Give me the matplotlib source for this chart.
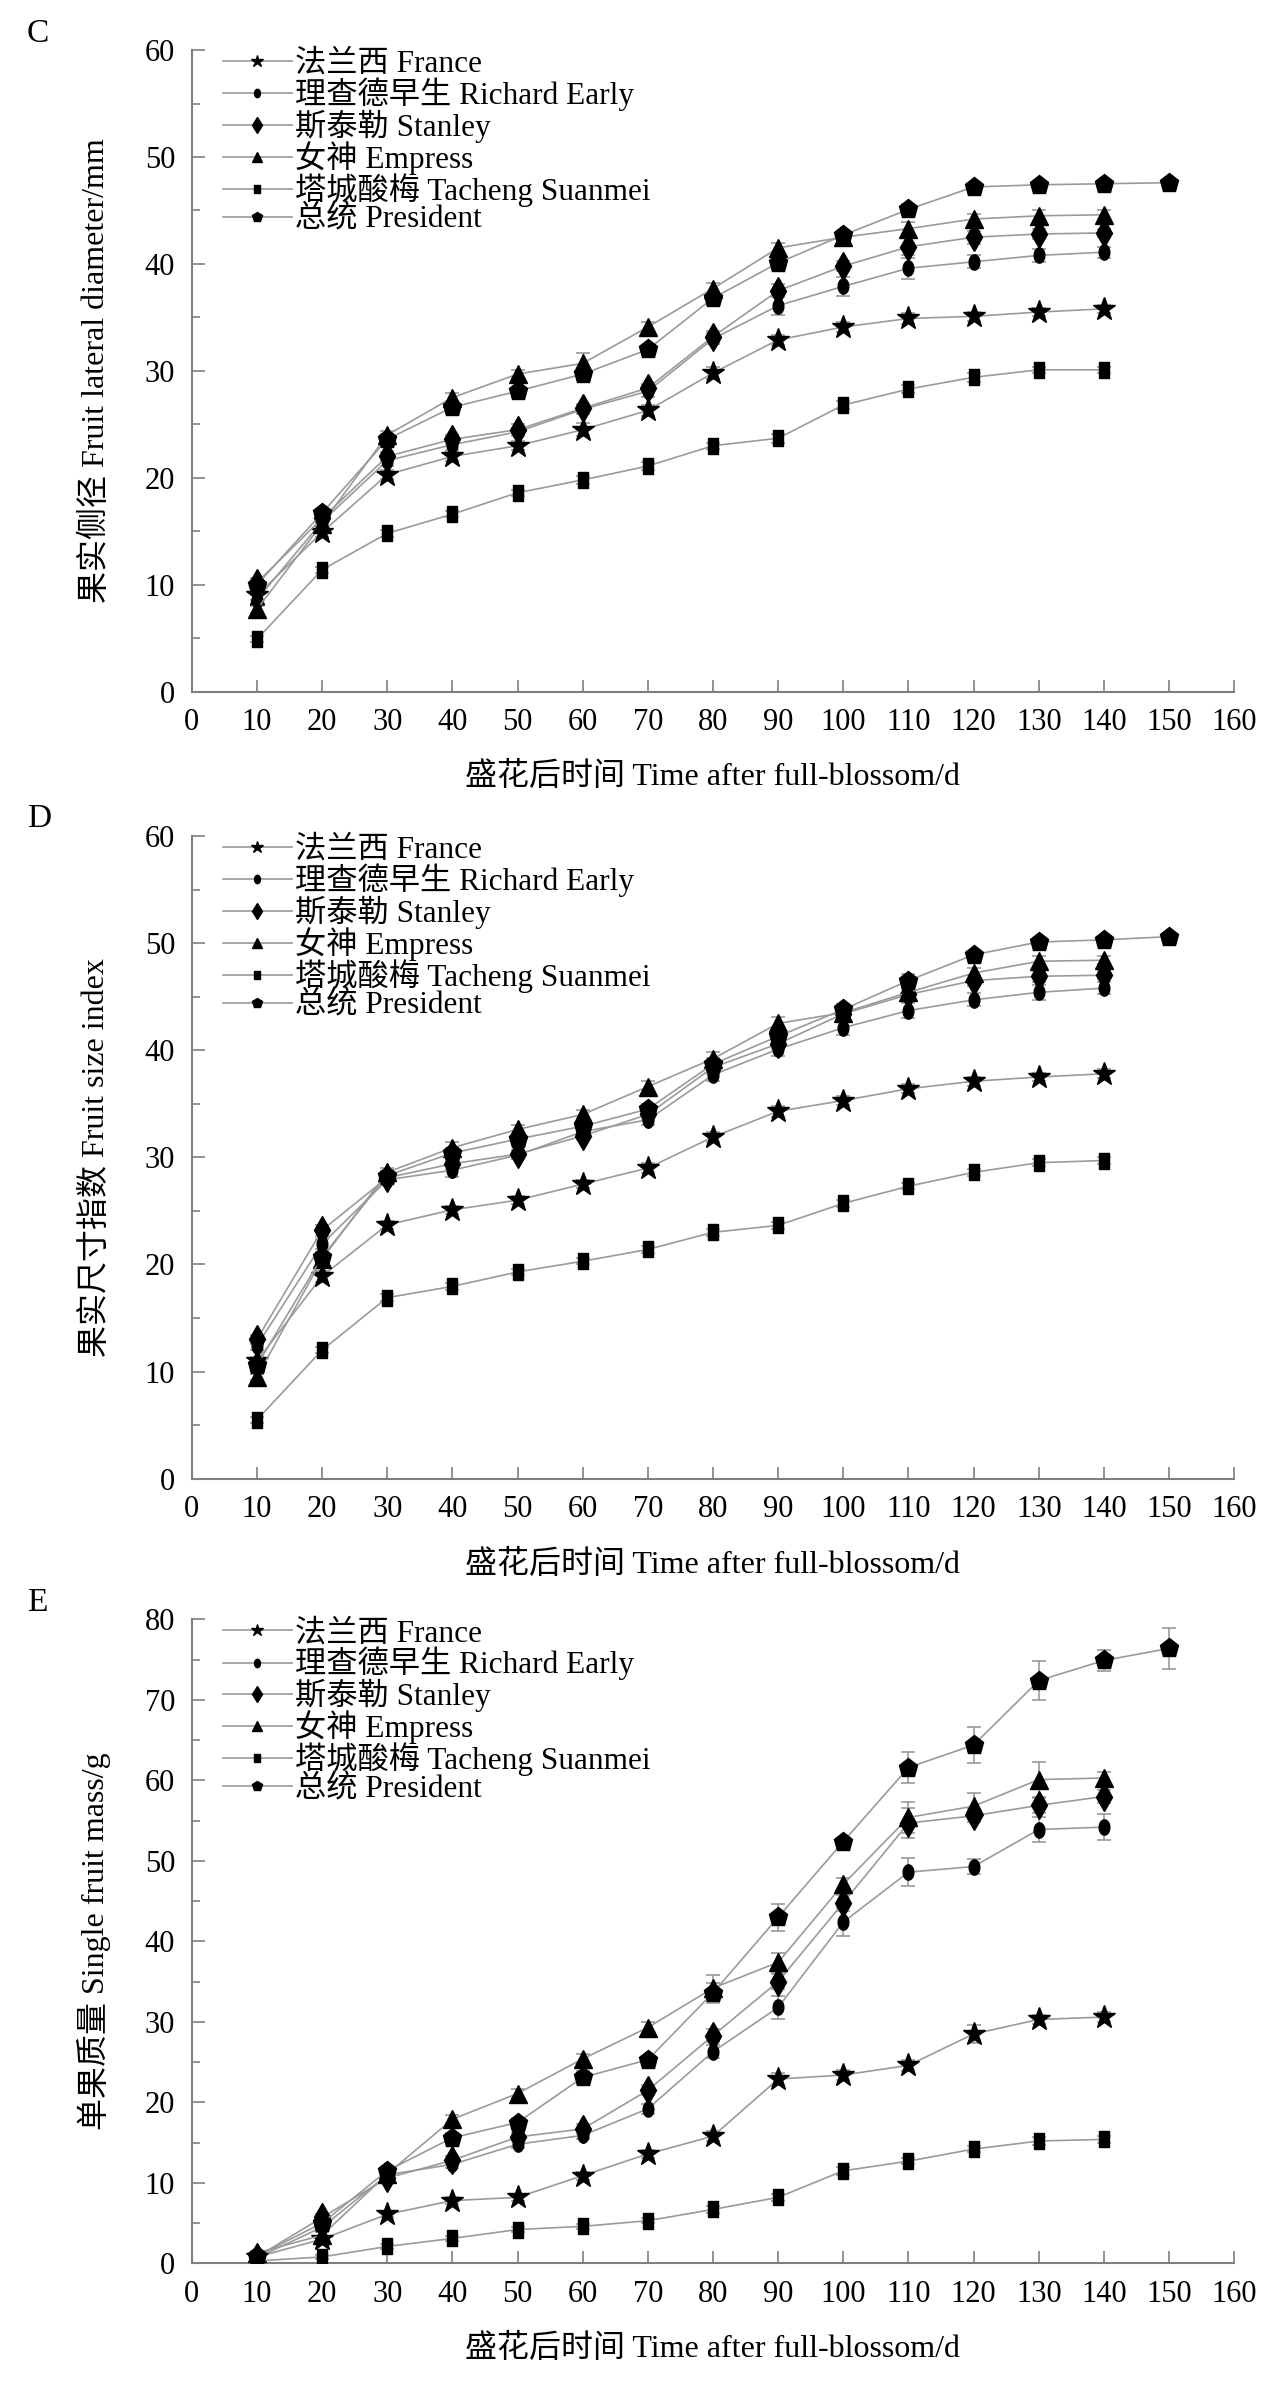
import numpy as np
import matplotlib.pyplot as plt
from matplotlib.ticker import MultipleLocator

plt.rcParams['font.family'] = ['Liberation Serif', 'Noto Sans CJK SC']
plt.rcParams['font.size'] = 22

days = [10, 20, 30, 40, 50, 60, 70, 80, 90, 100, 110, 120, 130, 140]
days_pres = days + [150]

names = ['法兰西 France', '理查德早生 Richard Early', '斯泰勒 Stanley',
         '女神 Empress', '塔城酸梅 Tacheng Suanmei', '总统 President']

# C: fruit lateral diameter (mm)
c_france = [9.0, 14.9, 20.3, 22.0, 23.0, 24.5, 26.3, 29.8, 32.9, 34.1, 34.9, 35.1, 35.5, 35.8]
c_richard = [8.6, 15.9, 21.6, 23.1, 24.3, 26.4, 28.1, 33.0, 36.1, 37.9, 39.6, 40.2, 40.8, 41.1]
c_stanley = [10.2, 16.2, 22.0, 23.6, 24.5, 26.5, 28.4, 33.2, 37.5, 39.8, 41.6, 42.5, 42.8, 42.9]
c_empress = [7.7, 15.7, 24.0, 27.5, 29.7, 30.7, 34.1, 37.7, 41.5, 42.5, 43.3, 44.2, 44.5, 44.6]
c_tacheng = [4.9, 11.4, 14.8, 16.6, 18.6, 19.8, 21.1, 23.0, 23.7, 26.8, 28.3, 29.4, 30.1, 30.1]
c_president = [10.0, 16.7, 23.6, 26.6, 28.1, 29.7, 32.0, 36.8, 40.1, 42.7, 45.1, 47.2, 47.4, 47.5, 47.6]
c_err_france = [0.4, 0.4, 0.4, 0.4, 0.4, 0.6, 0.5, 0.6, 0.5, 0.5, 0.5, 0.4, 0.4, 0.4]
c_err_richard = [0.4, 0.4, 0.5, 0.5, 0.4, 0.4, 0.5, 0.5, 0.9, 0.9, 1.0, 0.6, 0.6, 0.5]
c_err_stanley = [0.4, 0.4, 0.4, 0.4, 0.5, 0.4, 0.4, 0.5, 0.6, 0.5, 0.8, 0.6, 0.5, 0.4]
c_err_empress = [0.3, 0.4, 0.4, 0.4, 0.4, 1.0, 0.5, 0.5, 0.5, 0.5, 0.6, 0.5, 0.5, 0.4]
c_err_tacheng = [0.3, 0.3, 0.3, 0.3, 0.3, 0.4, 0.4, 0.3, 0.4, 0.4, 0.4, 0.4, 0.3, 0.3]
c_err_president = [0.4, 0.4, 0.5, 0.5, 0.4, 0.6, 0.4, 0.6, 0.6, 0.4, 0.5, 0.3, 0.4, 0.3, 0.3]

# D: fruit size index
d_france = [11.0, 18.9, 23.7, 25.1, 26.0, 27.5, 29.0, 31.9, 34.3, 35.3, 36.4, 37.1, 37.5, 37.8]
d_richard = [12.4, 21.9, 27.9, 28.8, 30.2, 32.4, 33.5, 37.7, 40.1, 42.1, 43.7, 44.7, 45.4, 45.8]
d_stanley = [13.0, 23.2, 28.1, 29.4, 30.3, 32.0, 34.0, 38.4, 40.6, 43.4, 45.2, 46.5, 46.9, 47.0]
d_empress = [9.5, 20.5, 28.6, 30.9, 32.6, 34.0, 36.6, 39.2, 42.5, 43.5, 45.4, 47.2, 48.3, 48.4]
d_tacheng = [5.5, 12.0, 16.9, 17.95, 19.3, 20.3, 21.4, 23.0, 23.65, 25.7, 27.3, 28.6, 29.5, 29.7]
d_president = [10.6, 20.7, 28.3, 30.4, 31.7, 32.9, 34.5, 38.7, 41.3, 43.8, 46.5, 48.9, 50.1, 50.3, 50.6]
d_err_france = [0.4, 0.5, 0.4, 0.4, 0.4, 0.4, 0.5, 0.5, 0.5, 0.4, 0.4, 0.4, 0.4, 0.4]
d_err_richard = [0.4, 0.5, 0.4, 0.6, 0.4, 0.4, 0.5, 0.6, 0.6, 0.7, 0.7, 0.6, 0.7, 0.6]
d_err_stanley = [0.4, 0.5, 0.4, 0.5, 0.4, 0.4, 0.5, 0.6, 0.5, 0.5, 0.5, 0.5, 0.5, 0.4]
d_err_empress = [0.3, 0.4, 0.4, 0.5, 0.4, 0.4, 0.5, 0.6, 0.6, 0.5, 0.5, 0.5, 0.5, 0.4]
d_err_tacheng = [0.3, 0.3, 0.3, 0.3, 0.3, 0.3, 0.3, 0.3, 0.3, 0.3, 0.3, 0.3, 0.3, 0.3]
d_err_president = [0.4, 0.5, 0.4, 0.5, 0.5, 0.5, 0.5, 0.6, 0.6, 0.5, 0.6, 0.4, 0.4, 0.3, 0.3]

# E: single fruit mass (g)
e_france = [0.8, 3.0, 6.1, 7.8, 8.2, 10.9, 13.6, 15.8, 22.9, 23.4, 24.6, 28.5, 30.3, 30.6]
e_richard = [0.7, 4.5, 11.0, 12.3, 14.8, 15.9, 19.2, 26.3, 31.8, 42.4, 48.6, 49.3, 53.9, 54.2]
e_stanley = [0.8, 5.7, 10.6, 12.8, 15.7, 16.7, 21.5, 28.3, 35.0, 44.8, 54.7, 55.6, 56.9, 58.0]
e_empress = [1.3, 3.5, 11.1, 17.9, 21.1, 25.4, 29.3, 34.2, 37.4, 47.1, 55.4, 56.8, 60.1, 60.3]
e_tacheng = [0.3, 0.8, 2.1, 3.1, 4.2, 4.6, 5.3, 6.7, 8.2, 11.5, 12.7, 14.2, 15.2, 15.4]
e_president = [0.9, 5.0, 11.5, 15.6, 17.5, 23.1, 25.3, 33.6, 43.0, 52.4, 61.6, 64.4, 72.4, 74.9, 76.4]
e_err_france = [0.2, 0.4, 0.4, 0.4, 0.4, 0.5, 0.5, 0.6, 0.7, 0.6, 0.7, 1.1, 0.6, 0.6]
e_err_richard = [0.2, 0.4, 0.4, 0.4, 0.5, 0.5, 0.6, 0.8, 1.4, 1.7, 1.7, 0.9, 1.6, 1.6]
e_err_stanley = [0.2, 0.4, 0.4, 0.5, 0.5, 0.6, 0.6, 0.8, 0.9, 1.0, 1.9, 0.8, 0.9, 0.8]
e_err_empress = [0.2, 0.4, 0.4, 0.5, 0.6, 0.6, 0.7, 1.6, 1.2, 0.8, 1.9, 1.6, 2.2, 0.8]
e_err_tacheng = [0.1, 0.2, 0.3, 0.3, 0.3, 0.3, 0.3, 0.4, 0.4, 0.5, 0.4, 0.4, 0.5, 0.4]
e_err_president = [0.2, 0.4, 0.5, 0.6, 0.6, 0.8, 0.5, 1.2, 1.7, 0.4, 1.9, 2.2, 2.4, 1.3, 2.5]

# marker shapes (narrow, like the original)
t = np.linspace(0, 2 * np.pi, 40)
ellipse = list(zip(0.7 * np.cos(t), np.sin(t)))
rect = [(-0.6, -1), (0.6, -1), (0.6, 1), (-0.6, 1), (-0.6, -1)]
markers = ['*', ellipse, 'd', '^', rect, 'p']
msizes = [17, 11, 14, 13, 11, 14]

line_col = '#9a9a9a'
axis_col = '#7f7f7f'

fig = plt.figure(figsize=(12.87, 23.85), dpi=100)

panels = [
    ('C', [0.149, 0.710, 0.81, 0.269], 60, '果实侧径 Fruit lateral diameter/mm',
     [c_france, c_richard, c_stanley, c_empress, c_tacheng, c_president],
     [c_err_france, c_err_richard, c_err_stanley, c_err_empress, c_err_tacheng, c_err_president]),
    ('D', [0.149, 0.380, 0.81, 0.2695], 60, '果实尺寸指数 Fruit size index',
     [d_france, d_richard, d_stanley, d_empress, d_tacheng, d_president],
     [d_err_france, d_err_richard, d_err_stanley, d_err_empress, d_err_tacheng, d_err_president]),
    ('E', [0.149, 0.051, 0.81, 0.270], 80, '单果质量 Single fruit mass/g',
     [e_france, e_richard, e_stanley, e_empress, e_tacheng, e_president],
     [e_err_france, e_err_richard, e_err_stanley, e_err_empress, e_err_tacheng, e_err_president]),
]

for letter, pos, ymax, ylabel, series, errs in panels:
    ax = fig.add_axes(pos)
    for i, (vals, err) in enumerate(zip(series, errs)):
        x = days_pres if len(vals) == 15 else days
        ax.errorbar(x, vals, yerr=err, fmt='none', ecolor=line_col,
                    elinewidth=1.2, capsize=5, capthick=1.2, zorder=2)
        ax.plot(x, vals, color=line_col, lw=1.2, marker=markers[i],
                ms=msizes[i], mfc='k', mec='k', label=names[i], zorder=3)

    ax.set_xlim(0, 160)
    ax.set_ylim(0, ymax)
    ax.xaxis.set_major_locator(MultipleLocator(10))
    ax.yaxis.set_major_locator(MultipleLocator(10))
    ax.yaxis.set_minor_locator(MultipleLocator(5))
    ax.tick_params(axis='both', which='both', direction='in', color=axis_col,
                   width=1.2, labelsize=22, pad=12)
    ax.tick_params(which='major', length=9)
    ax.tick_params(which='minor', length=6)
    for side in ['top', 'right']:
        ax.spines[side].set_visible(False)
    for side in ['left', 'bottom']:
        ax.spines[side].set_color(axis_col)
        ax.spines[side].set_linewidth(1.5)

    ax.set_xlabel('盛花后时间 Time after full-blossom/d', fontsize=23, labelpad=18)
    ax.set_ylabel(ylabel, fontsize=23, labelpad=24)

    ax.legend(loc='upper left', bbox_to_anchor=(0.03, 1.0), frameon=False,
              fontsize=22.5, labelspacing=-0.05, handlelength=2.2, markerscale=0.55,
              handletextpad=0.1, borderpad=0, borderaxespad=0)

    fig.text(0.021, pos[1] + pos[3] + 0.007, letter, fontsize=24, ha='left', va='center')

fig.savefig('out.png', dpi=100)
